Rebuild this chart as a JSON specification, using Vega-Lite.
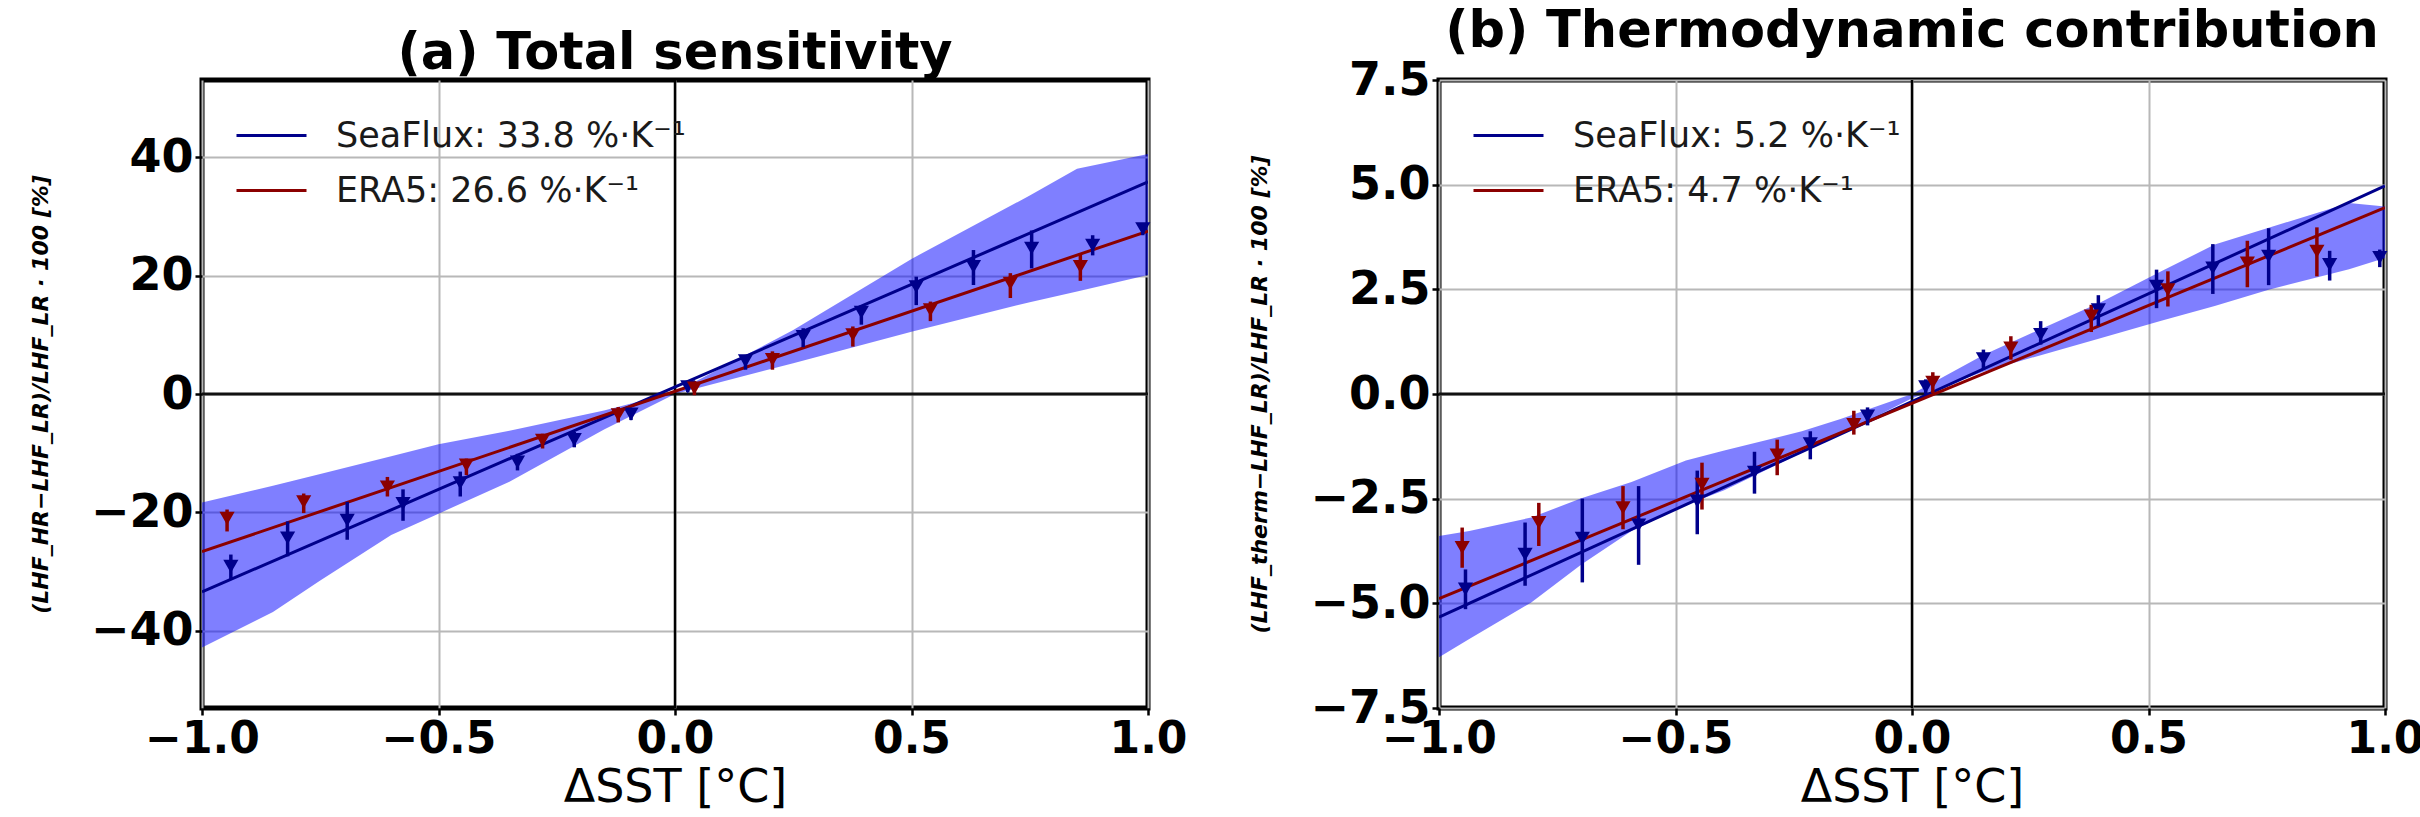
{
  "$schema": "https://vega.github.io/schema/vega-lite/v6.json",
  "padding": {"left": 26, "top": 3, "right": 2, "bottom": 2},
  "bounds": "flush",
  "spacing": 291,
  "datasets": {
    "a_band": [
      {"x": -1.0, "lo": -42.8, "hi": -18.3},
      {"x": -0.85, "lo": -36.8, "hi": -15.5},
      {"x": -0.75, "lo": -31.5, "hi": -13.5},
      {"x": -0.6, "lo": -23.8, "hi": -10.5},
      {"x": -0.5, "lo": -20.2, "hi": -8.5},
      {"x": -0.35, "lo": -14.8, "hi": -6.2},
      {"x": -0.15, "lo": -6.0, "hi": -2.8},
      {"x": 0.0, "lo": 0.0, "hi": 0.3},
      {"x": 0.25, "lo": 5.2, "hi": 10.8},
      {"x": 0.5, "lo": 10.5, "hi": 22.8},
      {"x": 0.75, "lo": 15.5, "hi": 33.5},
      {"x": 0.85, "lo": 17.3, "hi": 38.0},
      {"x": 1.0, "lo": 20.1, "hi": 40.5}
    ],
    "a_lines": [
      {"x": -1, "y": -33.4, "src": "SeaFlux: 33.8 %·K⁻¹"},
      {"x": 1, "y": 35.8, "src": "SeaFlux: 33.8 %·K⁻¹"},
      {"x": -1, "y": -26.6, "src": "ERA5: 26.6 %·K⁻¹"},
      {"x": 1, "y": 27.5, "src": "ERA5: 26.6 %·K⁻¹"}
    ],
    "a_points": [
      {"x": -0.939, "y": -29.1, "lo": -31.3, "hi": -27.1, "src": "SeaFlux: 33.8 %·K⁻¹"},
      {"x": -0.819, "y": -24.3, "lo": -27.4, "hi": -21.5, "src": "SeaFlux: 33.8 %·K⁻¹"},
      {"x": -0.693, "y": -21.3, "lo": -24.6, "hi": -18.2, "src": "SeaFlux: 33.8 %·K⁻¹"},
      {"x": -0.575, "y": -18.5, "lo": -21.4, "hi": -16.1, "src": "SeaFlux: 33.8 %·K⁻¹"},
      {"x": -0.454, "y": -15.0, "lo": -17.3, "hi": -13.1, "src": "SeaFlux: 33.8 %·K⁻¹"},
      {"x": -0.333, "y": -11.5, "lo": -12.9, "hi": -10.1, "src": "SeaFlux: 33.8 %·K⁻¹"},
      {"x": -0.213, "y": -7.7, "lo": -9.0, "hi": -6.4, "src": "SeaFlux: 33.8 %·K⁻¹"},
      {"x": -0.093, "y": -3.4, "lo": -4.4, "hi": -2.5, "src": "SeaFlux: 33.8 %·K⁻¹"},
      {"x": 0.027, "y": 1.2, "lo": 0.3, "hi": 2.1, "src": "SeaFlux: 33.8 %·K⁻¹"},
      {"x": 0.149, "y": 5.6, "lo": 4.1, "hi": 6.6, "src": "SeaFlux: 33.8 %·K⁻¹"},
      {"x": 0.271, "y": 9.7, "lo": 7.9, "hi": 11.1, "src": "SeaFlux: 33.8 %·K⁻¹"},
      {"x": 0.394, "y": 13.8, "lo": 11.7, "hi": 15.0, "src": "SeaFlux: 33.8 %·K⁻¹"},
      {"x": 0.51, "y": 18.1, "lo": 15.0, "hi": 19.8, "src": "SeaFlux: 33.8 %·K⁻¹"},
      {"x": 0.631, "y": 21.5, "lo": 18.4, "hi": 24.3, "src": "SeaFlux: 33.8 %·K⁻¹"},
      {"x": 0.754, "y": 24.6, "lo": 21.2, "hi": 27.6, "src": "SeaFlux: 33.8 %·K⁻¹"},
      {"x": 0.883, "y": 25.1, "lo": 23.4, "hi": 26.8, "src": "SeaFlux: 33.8 %·K⁻¹"},
      {"x": 0.989, "y": 27.9, "lo": 26.8, "hi": 28.8, "src": "SeaFlux: 33.8 %·K⁻¹"},
      {"x": -0.947, "y": -21.0, "lo": -23.2, "hi": -19.5, "src": "ERA5: 26.6 %·K⁻¹"},
      {"x": -0.785, "y": -18.2, "lo": -20.1, "hi": -16.8, "src": "ERA5: 26.6 %·K⁻¹"},
      {"x": -0.608, "y": -15.7, "lo": -17.3, "hi": -14.0, "src": "ERA5: 26.6 %·K⁻¹"},
      {"x": -0.441, "y": -12.0, "lo": -13.7, "hi": -10.9, "src": "ERA5: 26.6 %·K⁻¹"},
      {"x": -0.28, "y": -7.8, "lo": -9.2, "hi": -6.7, "src": "ERA5: 26.6 %·K⁻¹"},
      {"x": -0.12, "y": -3.5, "lo": -4.8, "hi": -2.2, "src": "ERA5: 26.6 %·K⁻¹"},
      {"x": 0.041, "y": 1.0, "lo": -0.2, "hi": 2.2, "src": "ERA5: 26.6 %·K⁻¹"},
      {"x": 0.206, "y": 5.8, "lo": 4.1, "hi": 7.2, "src": "ERA5: 26.6 %·K⁻¹"},
      {"x": 0.376, "y": 10.0, "lo": 8.0, "hi": 11.4, "src": "ERA5: 26.6 %·K⁻¹"},
      {"x": 0.54, "y": 14.2, "lo": 12.3, "hi": 15.6, "src": "ERA5: 26.6 %·K⁻¹"},
      {"x": 0.709, "y": 18.7, "lo": 16.2, "hi": 20.4, "src": "ERA5: 26.6 %·K⁻¹"},
      {"x": 0.857, "y": 21.5, "lo": 19.1, "hi": 23.7, "src": "ERA5: 26.6 %·K⁻¹"}
    ],
    "b_band": [
      {"x": -1.0, "lo": -6.29, "hi": -3.39},
      {"x": -0.936, "lo": -5.85, "hi": -3.27},
      {"x": -0.805, "lo": -4.98, "hi": -2.95},
      {"x": -0.699, "lo": -4.07, "hi": -2.49},
      {"x": -0.593, "lo": -3.27, "hi": -2.1},
      {"x": -0.478, "lo": -2.65, "hi": -1.59},
      {"x": -0.397, "lo": -2.3, "hi": -1.35},
      {"x": -0.233, "lo": -1.4, "hi": -0.89},
      {"x": -0.151, "lo": -0.97, "hi": -0.6},
      {"x": 0.0, "lo": -0.1, "hi": 0.0},
      {"x": 0.152, "lo": 0.54, "hi": 0.94},
      {"x": 0.4, "lo": 1.34, "hi": 2.2},
      {"x": 0.527, "lo": 1.75, "hi": 2.93},
      {"x": 0.64, "lo": 2.1, "hi": 3.57},
      {"x": 0.754, "lo": 2.49, "hi": 3.97},
      {"x": 0.924, "lo": 2.98, "hi": 4.56},
      {"x": 1.0, "lo": 3.25, "hi": 4.48}
    ],
    "b_lines": [
      {"x": -1, "y": -5.33, "src": "SeaFlux: 5.2 %·K⁻¹"},
      {"x": 1, "y": 4.97, "src": "SeaFlux: 5.2 %·K⁻¹"},
      {"x": -1, "y": -4.89, "src": "ERA5: 4.7 %·K⁻¹"},
      {"x": 1, "y": 4.45, "src": "ERA5: 4.7 %·K⁻¹"}
    ],
    "b_points": [
      {"x": -0.944, "y": -4.66, "lo": -5.14, "hi": -4.19, "src": "SeaFlux: 5.2 %·K⁻¹"},
      {"x": -0.818, "y": -3.83, "lo": -4.58, "hi": -3.07, "src": "SeaFlux: 5.2 %·K⁻¹"},
      {"x": -0.697, "y": -3.45, "lo": -4.5, "hi": -2.5, "src": "SeaFlux: 5.2 %·K⁻¹"},
      {"x": -0.578, "y": -3.13, "lo": -4.08, "hi": -2.2, "src": "SeaFlux: 5.2 %·K⁻¹"},
      {"x": -0.454, "y": -2.56, "lo": -3.35, "hi": -1.83, "src": "SeaFlux: 5.2 %·K⁻¹"},
      {"x": -0.333, "y": -1.87, "lo": -2.38, "hi": -1.38, "src": "SeaFlux: 5.2 %·K⁻¹"},
      {"x": -0.215, "y": -1.19, "lo": -1.56, "hi": -0.89, "src": "SeaFlux: 5.2 %·K⁻¹"},
      {"x": -0.094, "y": -0.53, "lo": -0.75, "hi": -0.32, "src": "SeaFlux: 5.2 %·K⁻¹"},
      {"x": 0.029, "y": 0.17, "lo": 0.0, "hi": 0.35, "src": "SeaFlux: 5.2 %·K⁻¹"},
      {"x": 0.151, "y": 0.84, "lo": 0.58, "hi": 1.06, "src": "SeaFlux: 5.2 %·K⁻¹"},
      {"x": 0.272, "y": 1.42, "lo": 1.18, "hi": 1.74, "src": "SeaFlux: 5.2 %·K⁻¹"},
      {"x": 0.394, "y": 2.01, "lo": 1.62, "hi": 2.36, "src": "SeaFlux: 5.2 %·K⁻¹"},
      {"x": 0.517, "y": 2.57, "lo": 2.05, "hi": 2.97, "src": "SeaFlux: 5.2 %·K⁻¹"},
      {"x": 0.636, "y": 3.01, "lo": 2.39, "hi": 3.58, "src": "SeaFlux: 5.2 %·K⁻¹"},
      {"x": 0.754, "y": 3.29, "lo": 2.6, "hi": 3.96, "src": "SeaFlux: 5.2 %·K⁻¹"},
      {"x": 0.883, "y": 3.09, "lo": 2.71, "hi": 3.42, "src": "SeaFlux: 5.2 %·K⁻¹"},
      {"x": 0.989, "y": 3.26, "lo": 3.03, "hi": 3.45, "src": "SeaFlux: 5.2 %·K⁻¹"},
      {"x": -0.951, "y": -3.67, "lo": -4.15, "hi": -3.19, "src": "ERA5: 4.7 %·K⁻¹"},
      {"x": -0.789, "y": -3.07, "lo": -3.63, "hi": -2.6, "src": "ERA5: 4.7 %·K⁻¹"},
      {"x": -0.611, "y": -2.72, "lo": -3.23, "hi": -2.2, "src": "ERA5: 4.7 %·K⁻¹"},
      {"x": -0.444, "y": -2.16, "lo": -2.76, "hi": -1.64, "src": "ERA5: 4.7 %·K⁻¹"},
      {"x": -0.285, "y": -1.46, "lo": -1.94, "hi": -1.09, "src": "ERA5: 4.7 %·K⁻¹"},
      {"x": -0.123, "y": -0.73, "lo": -0.97, "hi": -0.4, "src": "ERA5: 4.7 %·K⁻¹"},
      {"x": 0.044, "y": 0.28, "lo": 0.02, "hi": 0.52, "src": "ERA5: 4.7 %·K⁻¹"},
      {"x": 0.209, "y": 1.1, "lo": 0.82, "hi": 1.38, "src": "ERA5: 4.7 %·K⁻¹"},
      {"x": 0.379, "y": 1.86, "lo": 1.48, "hi": 2.13, "src": "ERA5: 4.7 %·K⁻¹"},
      {"x": 0.541, "y": 2.49, "lo": 2.09, "hi": 2.93, "src": "ERA5: 4.7 %·K⁻¹"},
      {"x": 0.709, "y": 3.13, "lo": 2.55, "hi": 3.66, "src": "ERA5: 4.7 %·K⁻¹"},
      {"x": 0.856, "y": 3.41, "lo": 2.81, "hi": 3.98, "src": "ERA5: 4.7 %·K⁻¹"}
    ]
  },
  "hconcat": [
    {
      "width": 946,
      "height": 628,
      "title": {"text": "(a) Total sensitivity"},
      "layer": [
        {
          "data": {"name": "a_band"},
          "mark": {"type": "area", "color": "#0000ff", "opacity": 0.5, "clip": true},
          "encoding": {
            "x": {"field": "x", "type": "quantitative", "scale": {"domain": [-1, 1], "nice": false, "zero": false}, "axis": {"values": [-1, -0.5, 0, 0.5, 1], "format": ".1f", "title": "ΔSST [°C]"}},
            "y": {"field": "lo", "type": "quantitative", "scale": {"domain": [-53, 53], "nice": false, "zero": false}, "axis": {"values": [-40, -20, 0, 20, 40], "format": "d", "title": "(LHF_HR−LHF_LR)/LHF_LR · 100 [%]"}},
            "y2": {"field": "hi"}
          }
        },
        {
          "data": {"values": [{}]},
          "mark": {"type": "rule", "color": "#111111", "strokeWidth": 3},
          "encoding": {"y": {"datum": 0}}
        },
        {
          "data": {"values": [{}]},
          "mark": {"type": "rule", "color": "black", "strokeWidth": 2.5},
          "encoding": {"x": {"datum": 0}}
        },
        {
          "data": {"name": "a_lines"},
          "mark": {"type": "line", "strokeWidth": 3, "clip": true},
          "encoding": {
            "x": {"field": "x", "type": "quantitative"},
            "y": {"field": "y", "type": "quantitative"},
            "color": {
              "field": "src", "type": "nominal",
              "scale": {"domain": ["SeaFlux: 33.8 %·K⁻¹", "ERA5: 26.6 %·K⁻¹"], "range": ["#00008b", "#8b0000"]},
              "legend": {"title": null, "orient": "none", "legendX": 29, "legendY": 15, "symbolType": "stroke", "symbolSize": 4900, "symbolStrokeWidth": 3, "labelFontSize": 35, "labelFont": "DejaVu Sans", "labelColor": "#1a1a1a", "labelOffset": 28, "rowPadding": -27, "padding": 4, "labelLimit": 0}
            }
          }
        },
        {
          "data": {"name": "a_points"},
          "mark": {"type": "rule", "strokeWidth": 3.5},
          "encoding": {
            "x": {"field": "x", "type": "quantitative"},
            "y": {"field": "lo", "type": "quantitative"},
            "y2": {"field": "hi"},
            "color": {"field": "src", "type": "nominal"}
          }
        },
        {
          "data": {"name": "a_points"},
          "mark": {"type": "point", "filled": true, "shape": "triangle-down", "size": 230, "opacity": 1},
          "encoding": {
            "x": {"field": "x", "type": "quantitative"},
            "y": {"field": "y", "type": "quantitative"},
            "color": {"field": "src", "type": "nominal"}
          }
        }
      ]
    },
    {
      "width": 946,
      "height": 628,
      "title": {"text": "(b) Thermodynamic contribution"},
      "layer": [
        {
          "data": {"name": "b_band"},
          "mark": {"type": "area", "color": "#0000ff", "opacity": 0.5, "clip": true},
          "encoding": {
            "x": {"field": "x", "type": "quantitative", "scale": {"domain": [-1, 1], "nice": false, "zero": false}, "axis": {"values": [-1, -0.5, 0, 0.5, 1], "format": ".1f", "title": "ΔSST [°C]"}},
            "y": {"field": "lo", "type": "quantitative", "scale": {"domain": [-7.5, 7.5], "nice": false, "zero": false}, "axis": {"values": [-7.5, -5, -2.5, 0, 2.5, 5, 7.5], "format": ".1f", "title": "(LHF_therm−LHF_LR)/LHF_LR · 100 [%]"}},
            "y2": {"field": "hi"}
          }
        },
        {
          "data": {"values": [{}]},
          "mark": {"type": "rule", "color": "#111111", "strokeWidth": 3},
          "encoding": {"y": {"datum": 0}}
        },
        {
          "data": {"values": [{}]},
          "mark": {"type": "rule", "color": "black", "strokeWidth": 2.5},
          "encoding": {"x": {"datum": 0}}
        },
        {
          "data": {"name": "b_lines"},
          "mark": {"type": "line", "strokeWidth": 3, "clip": true},
          "encoding": {
            "x": {"field": "x", "type": "quantitative"},
            "y": {"field": "y", "type": "quantitative"},
            "color": {
              "field": "src", "type": "nominal",
              "scale": {"domain": ["SeaFlux: 5.2 %·K⁻¹", "ERA5: 4.7 %·K⁻¹"], "range": ["#00008b", "#8b0000"]},
              "legend": {"title": null, "orient": "none", "legendX": 29, "legendY": 15, "symbolType": "stroke", "symbolSize": 4900, "symbolStrokeWidth": 3, "labelFontSize": 35, "labelFont": "DejaVu Sans", "labelColor": "#1a1a1a", "labelOffset": 28, "rowPadding": -27, "padding": 4, "labelLimit": 0}
            }
          }
        },
        {
          "data": {"name": "b_points"},
          "mark": {"type": "rule", "strokeWidth": 3.5},
          "encoding": {
            "x": {"field": "x", "type": "quantitative"},
            "y": {"field": "lo", "type": "quantitative"},
            "y2": {"field": "hi"},
            "color": {"field": "src", "type": "nominal"}
          }
        },
        {
          "data": {"name": "b_points"},
          "mark": {"type": "point", "filled": true, "shape": "triangle-down", "size": 230, "opacity": 1},
          "encoding": {
            "x": {"field": "x", "type": "quantitative"},
            "y": {"field": "y", "type": "quantitative"},
            "color": {"field": "src", "type": "nominal"}
          }
        }
      ]
    }
  ],
  "resolve": {
    "scale": {"color": "independent", "x": "independent", "y": "independent"},
    "legend": {"color": "independent"}
  },
  "config": {
    "font": "DejaVu Sans",
    "background": "white",
    "view": {"stroke": "black", "strokeWidth": 5},
    "title": {"font": "DejaVu Sans", "fontSize": 51, "fontWeight": "bold", "color": "black", "offset": -1, "baseline": "alphabetic", "anchor": "middle"},
    "axis": {
      "grid": true, "gridColor": "#b8b8b8", "gridWidth": 2,
      "domain": false,
      "tickColor": "black", "tickSize": 7, "tickWidth": 2.5,
      "labelFont": "DejaVu Sans", "labelFontWeight": "bold", "labelFontSize": 46, "labelColor": "black",
      "labelFlush": false, "labelOverlap": false, "labelBound": false, "labelPadding": 2,
      "titleFont": "DejaVu Sans", "titleColor": "black"
    },
    "axisX": {"labelFontSize": 44, "titleFontSize": 46, "titleFontWeight": "normal", "titlePadding": 4},
    "axisY": {"titleFontSize": 22, "titleFontWeight": "bold", "titleFontStyle": "italic", "titlePadding": 38}
  }
}
